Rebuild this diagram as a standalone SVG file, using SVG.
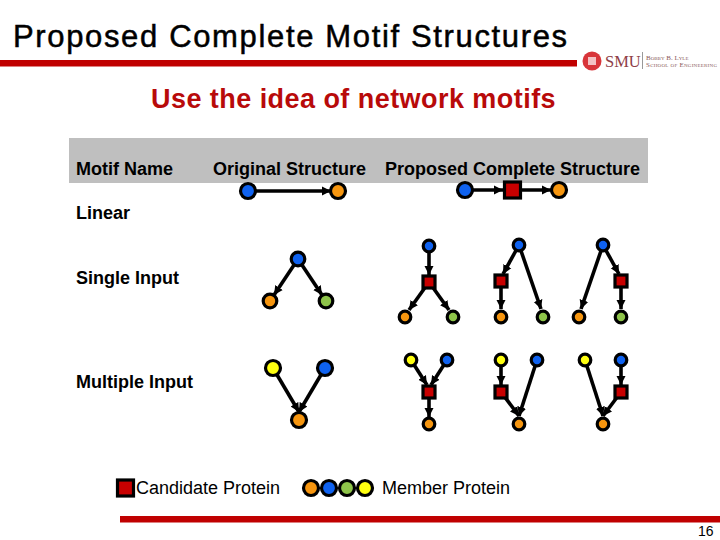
<svg xmlns="http://www.w3.org/2000/svg" width="720" height="540" viewBox="0 0 720 540">
<style>
text{font-family:"Liberation Sans",Arial,sans-serif;fill:#000}
.title{font-size:31px;letter-spacing:1.65px;stroke:#000;stroke-width:.5px}
.sub{font-size:27px;font-weight:bold;fill:#b80a0a;letter-spacing:.45px}
.h{font-size:18px;font-weight:bold}
.l{font-size:18px}
.c{stroke:#000;stroke-width:3.6;fill:none;marker-end:url(#a)}
.s{fill:#c80000;stroke:#000;stroke-width:3.2}
.bl{fill:#0f62f0}.or{fill:#f7960f}.gr{fill:#8ec44a}.ye{fill:#ffff10}
.n circle{stroke:#000;stroke-width:3.2}
.lg{font-family:"Liberation Serif",serif;font-size:7px;font-variant:small-caps;fill:#8a5a5a}
</style>
<defs>
<marker id="a" markerUnits="userSpaceOnUse" markerWidth="10" markerHeight="10" refX="9" refY="5" orient="auto"><path d="M0 .5L9 5L0 9.500Z" fill="#000"/></marker>
</defs>
<rect width="720" height="540" fill="#fff"/>
<text class="title" x="13" y="47">Proposed Complete Motif Structures</text>
<rect x="0" y="60" width="577" height="6.500" fill="#c00000"/>
<g id="logo">
<circle cx="592" cy="61" r="9.500" fill="#d8353a"/>
<rect x="588" y="57" width="8" height="8" fill="#fff" opacity=".7"/>
<text x="605" y="67" style="font-family:'Liberation Serif',serif;font-size:16.500px;fill:#8f4048">SMU</text>
<rect x="642" y="52" width="1" height="17" fill="#999"/>
<text class="lg" x="646" y="60">Bobby B. Lyle</text>
<text class="lg" x="646" y="67" textLength="71">School of Engineering</text>
</g>
<text class="sub" x="151" y="108">Use the idea of network motifs</text>
<rect x="69" y="138" width="579" height="45" fill="#bfbfbf"/>
<text class="h" x="76" y="175">Motif Name</text>
<text class="h" x="213" y="175">Original Structure</text>
<text class="h" x="385" y="175">Proposed Complete Structure</text>
<text class="h" x="76" y="219">Linear</text>
<text class="h" x="76" y="284">Single Input</text>
<text class="h" x="76" y="388">Multiple Input</text>
<g id="connectors">
<path class="c" d="M248 191H331"/>
<path class="c" d="M298 259L274 295"/>
<path class="c" d="M298 259L322 295"/>
<path class="c" d="M465 190H503"/>
<path class="c" d="M512 190H551"/>
<path class="c" d="M429 246V275"/>
<path class="c" d="M429 282L409 310"/>
<path class="c" d="M429 282L449 310"/>
<path class="c" d="M519 245L503 274"/>
<path class="c" d="M519 245L541 309"/>
<path class="c" d="M501 281V309"/>
<path class="c" d="M603 245L581 309"/>
<path class="c" d="M603 245L619 274"/>
<path class="c" d="M621 281V309"/>
<path class="c" d="M273 368L299 412"/>
<path class="c" d="M325 368L299 412"/>
<path class="c" d="M411 360L427 385"/>
<path class="c" d="M447 360L431 385"/>
<path class="c" d="M429 392V417"/>
<path class="c" d="M501 360V385"/>
<path class="c" d="M537 360L519 416"/>
<path class="c" d="M501 392L519 416"/>
<path class="c" d="M585 360L603 416"/>
<path class="c" d="M621 360V385"/>
<path class="c" d="M621 392L603 416"/>
</g>
<g id="orig-linear-a" class="n"><circle class="bl" cx="248" cy="191" r="7.500"/></g>
<g id="orig-linear-b" class="n"><circle class="or" cx="338" cy="191" r="7.500"/></g>
<g id="orig-single-a" class="n"><circle class="bl" cx="298" cy="259" r="6.800"/></g>
<g id="orig-single-b" class="n"><circle class="or" cx="270" cy="301" r="6.800"/></g>
<g id="orig-single-c" class="n"><circle class="gr" cx="326" cy="301" r="6.800"/></g>
<g id="orig-multi-a" class="n"><circle class="ye" cx="273" cy="368" r="7.500"/></g>
<g id="orig-multi-b" class="n"><circle class="bl" cx="325" cy="368" r="7.500"/></g>
<g id="orig-multi-c" class="n"><circle class="or" cx="299" cy="420" r="7.500"/></g>
<g id="prop-linear-a" class="n"><circle class="bl" cx="465" cy="190" r="7.500"/></g>
<g id="prop-linear-s"><rect class="s" x="504.500" y="182" width="16" height="16"/></g>
<g id="prop-linear-b" class="n"><circle class="or" cx="559" cy="190" r="7.500"/></g>
<g id="s1-a" class="n"><circle class="bl" cx="429" cy="246" r="5.800"/></g>
<g id="s1-s"><rect class="s" x="423" y="276" width="12" height="12"/></g>
<g id="s1-b" class="n"><circle class="or" cx="405" cy="317" r="5.800"/></g>
<g id="s1-c" class="n"><circle class="gr" cx="453" cy="317" r="5.800"/></g>
<g id="s2-a" class="n"><circle class="bl" cx="519" cy="245" r="5.800"/></g>
<g id="s2-s"><rect class="s" x="495" y="275" width="12" height="12"/></g>
<g id="s2-b" class="n"><circle class="or" cx="501" cy="317" r="5.800"/></g>
<g id="s2-c" class="n"><circle class="gr" cx="543" cy="317" r="5.800"/></g>
<g id="s3-a" class="n"><circle class="bl" cx="603" cy="245" r="5.800"/></g>
<g id="s3-s"><rect class="s" x="615" y="275" width="12" height="12"/></g>
<g id="s3-b" class="n"><circle class="or" cx="579" cy="317" r="5.800"/></g>
<g id="s3-c" class="n"><circle class="gr" cx="621" cy="317" r="5.800"/></g>
<g id="m1-a" class="n"><circle class="ye" cx="411" cy="360" r="5.800"/></g>
<g id="m1-b" class="n"><circle class="bl" cx="447" cy="360" r="5.800"/></g>
<g id="m1-s"><rect class="s" x="423" y="386" width="12" height="12"/></g>
<g id="m1-c" class="n"><circle class="or" cx="429" cy="424" r="5.800"/></g>
<g id="m2-a" class="n"><circle class="ye" cx="501" cy="360" r="5.800"/></g>
<g id="m2-b" class="n"><circle class="bl" cx="537" cy="360" r="5.800"/></g>
<g id="m2-s"><rect class="s" x="495" y="386" width="12" height="12"/></g>
<g id="m2-c" class="n"><circle class="or" cx="519" cy="424" r="5.800"/></g>
<g id="m3-a" class="n"><circle class="ye" cx="585" cy="360" r="5.800"/></g>
<g id="m3-b" class="n"><circle class="bl" cx="621" cy="360" r="5.800"/></g>
<g id="m3-s"><rect class="s" x="615" y="386" width="12" height="12"/></g>
<g id="m3-c" class="n"><circle class="or" cx="603" cy="424" r="5.800"/></g>
<g id="legend-candidate"><rect class="s" x="117.500" y="480" width="16" height="16"/>
<text class="l" x="136" y="494">Candidate Protein</text></g>
<g id="legend-member" class="n">
<circle class="or" cx="311" cy="488" r="7.500"/>
<circle class="bl" cx="329" cy="488" r="7.500"/>
<circle class="gr" cx="347" cy="488" r="7.500"/>
<circle class="ye" cx="365" cy="488" r="7.500"/>
<text class="l" x="382" y="494">Member Protein</text></g>
<rect x="120" y="516" width="600" height="6.500" fill="#c00000"/>
<text x="698" y="536" style="font-size:14px">16</text>
</svg>
